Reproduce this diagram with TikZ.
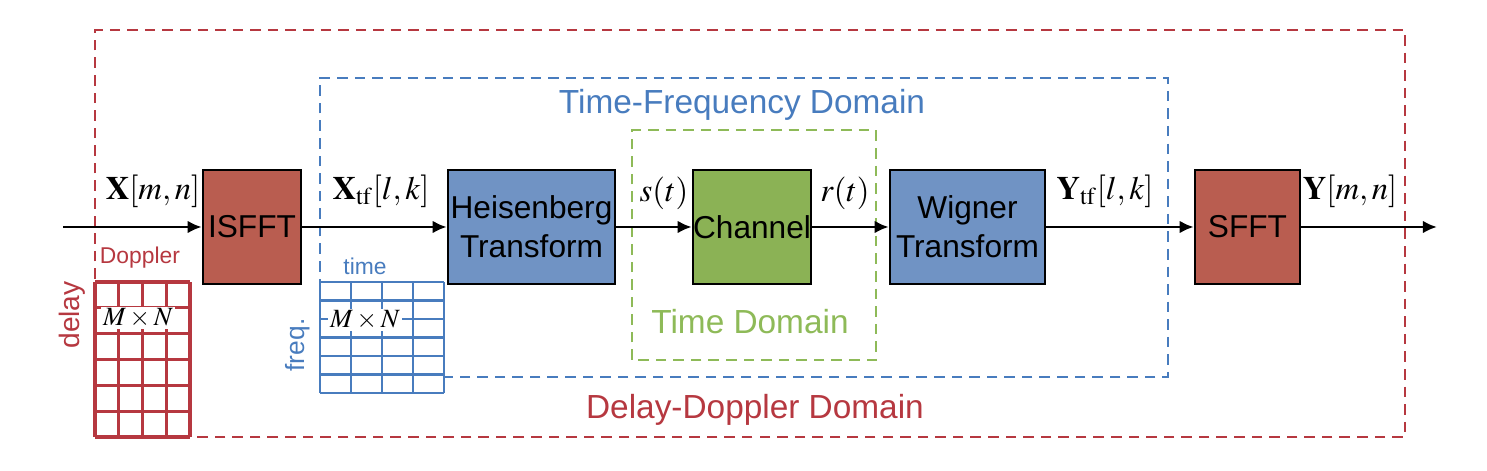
\documentclass[tikz,border=0pt]{standalone}
\usepackage{mathptmx}
\usepackage{fontspec}
\setmainfont{Liberation Sans}
\usepackage{xcolor}
\definecolor{ddred}{RGB}{182,56,64}
\definecolor{ddfill}{RGB}{185,93,80}
\definecolor{tfblue}{RGB}{72,124,190}
\definecolor{tffill}{RGB}{112,147,196}
\definecolor{tdgreen}{RGB}{142,186,88}
\definecolor{tdfill}{RGB}{139,178,85}
\usetikzlibrary{arrows.meta,positioning,calc}
\tikzset{
  block/.style={draw=black, line width=0.7pt, fill=#1, font=\fontsize{9}{10}\selectfont,
                minimum height=1.14cm, inner xsep=0pt, inner ysep=1pt, align=center},
  domain/.style={draw=#1, line width=0.7pt, dash pattern=on 3pt off 2pt},
  dlabel/.style={text=#1, font=\fontsize{9.5}{11}\selectfont},
  sig/.style={font=\fontsize{9.3}{10}\selectfont, inner sep=1pt},
  flow/.style={line width=0.8pt, -{Latex[length=4pt,width=3.6pt]}},
  axlabel/.style={text=#1, font=\fontsize{6.5}{7}\selectfont, inner sep=1pt},
  gridlabel/.style={fill=white, font=\fontsize{7.5}{8}\selectfont, inner sep=0.5pt},
}
\begin{document}
\begin{tikzpicture}
\useasboundingbox (0,0) rectangle (14.87,4.71);
% domain frames
\draw[domain=ddred] (0.95,0.34) rectangle (14.05,4.41);
\draw[domain=tfblue] (3.20,0.94) rectangle (11.68,3.93);
\draw[domain=tdgreen] (6.32,1.11) rectangle (8.76,3.41);
\node[dlabel=tfblue] (tflabel) at (7.42,3.66) {Time-Frequency Domain};
\node[dlabel=tdgreen] (tdlabel) at (7.50,1.49) {Time Domain};
\node[dlabel=ddred] (ddlabel) at (7.55,0.61) {Delay-Doppler Domain};
% delay-Doppler grid
\fill[white] (0.95,0.34) rectangle (1.90,1.89);
\foreach \i in {0,...,4} \draw[ddred, line width=0.9pt] (0.95+0.2375*\i,0.34) -- (0.95+0.2375*\i,1.89);
\foreach \j in {0,...,6} \draw[ddred, line width=0.9pt] (0.95,0.34+0.2583*\j) -- (1.90,0.34+0.2583*\j);
\node[gridlabel] (ddgrid) at (1.38,1.53) {$M\times N$};
\node[axlabel=ddred] (doppler) at (1.40,2.13) {Doppler};
\node[axlabel=ddred, font=\fontsize{8}{9}\selectfont, rotate=90] (delay) at (0.72,1.56) {delay};
% time-frequency grid
\fill[white] (3.20,0.78) rectangle (4.44,1.89);
\foreach \i in {0,...,4} \draw[tfblue, line width=0.8pt] (3.20+0.31*\i,0.78) -- (3.20+0.31*\i,1.89);
\foreach \j in {0,...,6} \draw[tfblue, line width=0.8pt] (3.20,0.78+0.185*\j) -- (4.44,0.78+0.185*\j);
\node[gridlabel] (tfgrid) at (3.65,1.51) {$M\times N$};
\node[axlabel=tfblue] (time) at (3.65,2.05) {time};
\node[axlabel=tfblue, font=\fontsize{7.5}{8}\selectfont, rotate=90] (freq) at (2.98,1.26) {freq.};
% processing chain
\coordinate (in) at (0.63,2.44);
\coordinate (out) at (14.37,2.44);
\node[block=ddfill, minimum width=0.98cm] (isfft) at (2.52,2.44) {ISFFT};
\node[block=tffill, minimum width=1.67cm] (heis) at (5.315,2.44) {Heisenberg\\[1pt]Transform};
\node[block=tdfill, minimum width=1.18cm] (chan) at (7.52,2.44) {Channel};
\node[block=tffill, minimum width=1.55cm] (wig) at (9.675,2.44) {Wigner\\[1pt]Transform};
\node[block=ddfill, minimum width=1.05cm] (sfft) at (12.475,2.44) {SFFT};
\draw[flow] (in) -- (isfft);
\draw[flow] (isfft) -- (heis);
\draw[flow] (heis) -- (chan);
\draw[flow] (chan) -- (wig);
\draw[flow] (wig) -- (sfft);
\draw[flow] (sfft) -- (out);
% signal labels
\node[sig] (xdd) at (1.53,2.80) {$\mathbf{X}[m,n]$};
\node[sig] (xtf) at (3.81,2.80) {$\mathbf{X}_{\mathrm{tf}}[l,k]$};
\node[sig] (st) at (6.64,2.78) {$s(t)$};
\node[sig] (rt) at (8.45,2.78) {$r(t)$};
\node[sig] (ytf) at (11.05,2.80) {$\mathbf{Y}_{\mathrm{tf}}[l,k]$};
\node[sig] (ydd) at (13.50,2.80) {$\mathbf{Y}[m,n]$};
\end{tikzpicture}
\end{document}
